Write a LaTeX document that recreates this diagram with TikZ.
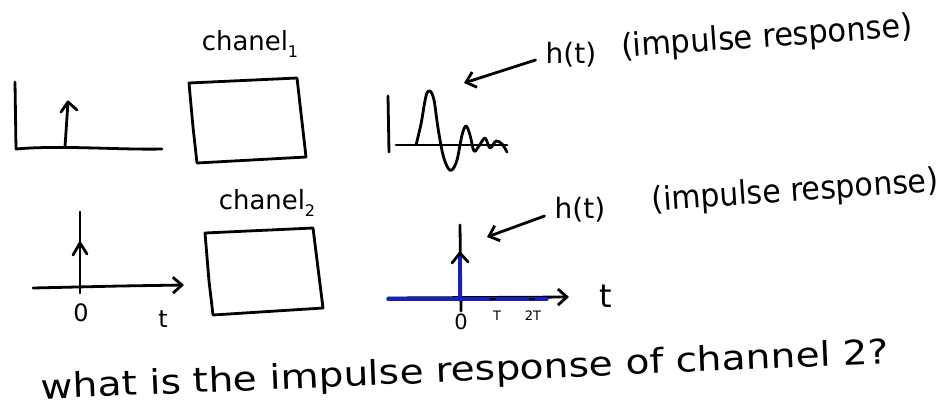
\documentclass[tikz,border=0pt]{standalone}
\usepackage{fontspec}
\setmainfont{DejaVu Sans}
\usetikzlibrary{arrows.meta}
\definecolor{penblue}{RGB}{25,30,190}
\begin{document}
\begin{tikzpicture}[x=1pt,y=-1pt,
  pen/.style={line width=2.8pt,line cap=round,line join=round},
  bluepen/.style={line width=3.4pt,line cap=round,line join=round,draw=penblue},
  barb/.style={-{Straight Barb[length=9pt,width=16pt,line width=2.8pt]}},
  hand/.style={inner sep=0pt,font=\fontsize{24}{26}\selectfont},
  small/.style={inner sep=0pt,font=\fontsize{13}{14}\selectfont}]
\useasboundingbox (0,0) rectangle (942,413);

% ---------- top row ----------
% input impulse 1
\draw[pen] (15,82) -- (16,149) .. controls (60,145) and (120,150) .. (162,149);
\coordinate (imp1b) at (65,147);
\coordinate (imp1t) at (68,102);
\draw[pen] (imp1b) -- (imp1t);
\draw[pen] (61,112) -- (imp1t) -- (77,110);
% channel 1 box
\coordinate (b1a) at (189,83);
\coordinate (b1b) at (297,78);
\coordinate (b1c) at (306,157);
\coordinate (b1d) at (197,163);
\draw[pen] (b1a) -- (b1b) -- (b1c) -- (b1d) -- (193,127) -- cycle;
\node[hand] (ch1) at (250,44) {\scalebox{1.08}[1.1]{chanel}\raisebox{-0.3em}{\fontsize{16}{16}\selectfont 1}};
% output waveform
\draw[pen] (388,96) -- (389,152);
\draw[pen] (396,145) -- (507,145);
\draw[pen] plot[smooth,tension=0.55] coordinates {(416,145) (421,124) (426,96) (430,91) (434,100) (438,128) (443,155) (448,168) (452,170) (457,160) (462,135) (466,126) (470,135) (474,151) (479,146) (485,138) (490,148) (496,141) (502,144) (507,152)};
\node[hand,font=\fontsize{28}{30}\selectfont] (ht1) at (571,55) {h(t)};
\node[hand,rotate=4] (ir1) at (767,38) {\scalebox{1.27}[1.35]{(impulse response)}};
\coordinate (a1e) at (464,83);
\draw[pen,barb] (ht1.west) ++(-10,5) coordinate (a1s) -- (a1e);

% ---------- bottom row ----------
\draw[pen,barb] (33,288) -- (120,286) -- (184,285);
\draw[pen] (80,293) -- (80,212);
\draw[pen] (73,255) -- (80,243) -- (87,254);
\node[hand] (zero1) at (81,313) {0};
\node[hand] (t1) at (163,319) {t};
% channel 2 box
\coordinate (b2a) at (205,233);
\coordinate (b2b) at (313,228);
\coordinate (b2c) at (323,308);
\coordinate (b2d) at (213,315);
\draw[pen] (b2a) -- (b2b) -- (b2c) -- (b2d) -- (209,281) -- cycle;
\node[hand] (ch2) at (267,203) {\scalebox{1.08}[1.1]{chanel}\raisebox{-0.3em}{\fontsize{16}{16}\selectfont 2}};
% output impulse 2
\draw[pen] (460,225) -- (461,311);
\draw[pen,barb] (388,298) -- (569,297);
\draw[bluepen] (388,299) -- (547,299);
\draw[bluepen] (460,298) -- (460,254);
\draw[pen] (452,263) -- (460,253) -- (468,262);
\draw[pen] (491,299) -- (495,299);
\draw[pen] (530,299) -- (534,299);
\node[hand,font=\fontsize{21}{22}\selectfont] (zero2) at (461,322) {0};
\node[small] (T) at (497,316) {T};
\node[small] (TT) at (533,316) {2T};
\node[hand,font=\fontsize{32}{34}\selectfont] (t2) at (606,296) {t};
\node[hand,font=\fontsize{28}{30}\selectfont] (ht2) at (580,210) {h(t)};
\node[hand,rotate=4] (ir2) at (795,192) {\scalebox{1.25}[1.35]{(impulse response)}};
\coordinate (a2e) at (487,237);
\draw[pen,barb] (ht2.west) ++(-10,6) coordinate (a2s) -- (a2e);

% ---------- question ----------
\node[hand,rotate=2.4,font=\fontsize{34}{36}\selectfont] (q) at (465,372) {\scalebox{1.15}[1]{what is the impulse response of channel 2?}};
\end{tikzpicture}
\end{document}
